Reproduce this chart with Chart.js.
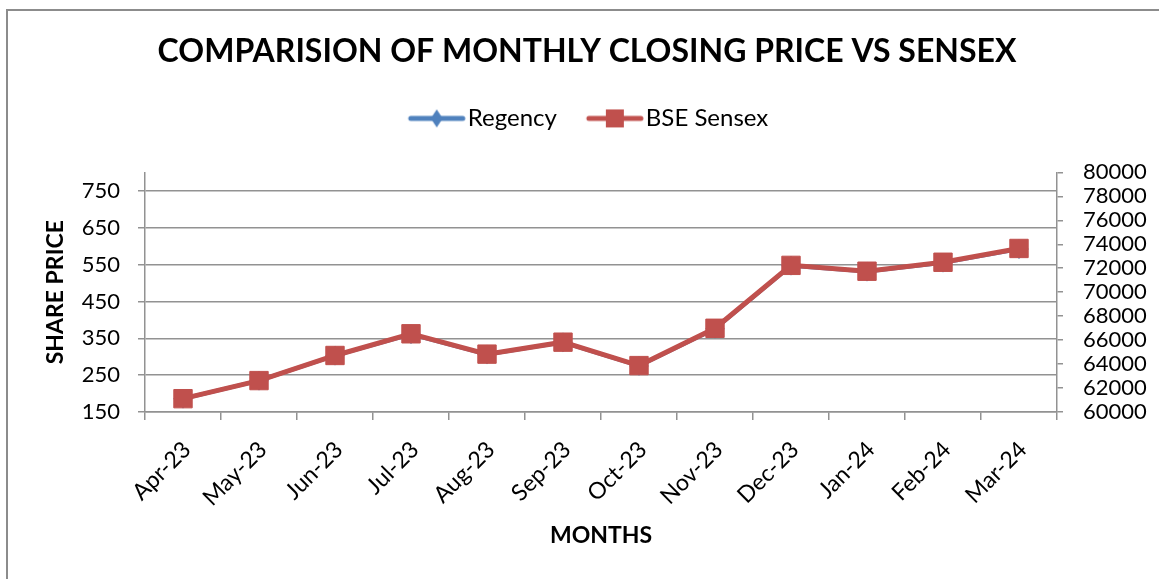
<!DOCTYPE html>
<html>
<head>
<meta charset="utf-8">
<script src="https://cdn.jsdelivr.net/npm/chart.js@4.4.1/dist/chart.umd.min.js"></script>
<style>
  html, body { margin: 0; padding: 0; background: #fff; }
</style>
</head>
<body>
<canvas id="priceChart" width="1159" height="579"></canvas>
<script>
const months = ["Apr-23", "May-23", "Jun-23", "Jul-23", "Aug-23", "Sep-23", "Oct-23", "Nov-23", "Dec-23", "Jan-24", "Feb-24", "Mar-24"];
// Regency sits exactly under the Sensex line in the picture (left axis)
const regencyPrice = [186, 235, 303, 361, 306, 339, 275, 376, 547, 531, 555, 592];
const sensexClose = [61112, 62622, 64718, 66527, 64831, 65828, 63874, 66988, 72240, 71752, 72500, 73651];
const priceTicks = [150, 250, 350, 450, 550, 650, 750];

const BLUE = "#4F81BD";
const RED = "#C0504D";
const GRID = "#929292";
const FONT = "Lato";

// legend sample: line with the marker in the middle
const legendIcon = (color, shape) => {
  const c = document.createElement("canvas");
  c.width = 72;
  c.height = 20;
  const ctx = c.getContext("2d");
  ctx.strokeStyle = color;
  ctx.lineWidth = 5;
  ctx.lineCap = "round";
  ctx.beginPath();
  ctx.moveTo(16, 10);
  ctx.lineTo(68, 10);
  ctx.stroke();
  ctx.fillStyle = color;
  if (shape === "diamond") {
    ctx.beginPath();
    ctx.moveTo(42, 1);
    ctx.lineTo(48, 10);
    ctx.lineTo(42, 19);
    ctx.lineTo(36, 10);
    ctx.closePath();
    ctx.fill();
  } else {
    ctx.fillRect(33, 1, 18, 18);
  }
  return c;
};
const icons = [legendIcon(BLUE, "diamond"), legendIcon(RED, "rect")];

// outer frame of the chart (left and top edges show)
const frame = {
  id: "frame",
  beforeDraw(chart) {
    const ctx = chart.ctx;
    ctx.save();
    ctx.strokeStyle = "#8c8c8c";
    ctx.lineWidth = 2;
    ctx.beginPath();
    ctx.moveTo(7, 600);
    ctx.lineTo(7, 10);
    ctx.lineTo(1170, 10);
    ctx.stroke();
    ctx.restore();
  },
};

// leave room under the legend before the plot starts
const legendGap = {
  id: "legendGap",
  beforeLayout(chart) {
    const lg = chart.legend;
    if (lg && !lg._gapPatched) {
      const fit = lg.fit;
      lg.fit = function () {
        fit.call(this);
        this.height += 32;
      };
      lg._gapPatched = true;
    }
  },
};

const chart = new Chart(document.getElementById("priceChart"), {
  type: "line",
  data: {
    labels: months,
    datasets: [
      {
        label: "Regency",
        data: regencyPrice,
        yAxisID: "y",
        order: 1,
        borderColor: BLUE,
        backgroundColor: BLUE,
        borderWidth: 4,
        pointStyle: "rectRot",
        pointRadius: 7,
        tension: 0,
      },
      {
        label: "BSE Sensex",
        data: sensexClose,
        yAxisID: "y1",
        order: 0,
        borderColor: RED,
        backgroundColor: RED,
        borderWidth: 5,
        pointStyle: "rect",
        pointRadius: 13,
        pointBorderWidth: 1,
        tension: 0,
      },
    ],
  },
  options: {
    responsive: false,
    animation: false,
    layout: { padding: { left: 15, right: 0, top: 0, bottom: 30 } },
    plugins: {
      tooltip: { enabled: false },
      title: {
        display: true,
        text: "COMPARISION OF MONTHLY CLOSING PRICE VS SENSEX",
        color: "#000",
        font: { family: FONT, size: 32, weight: "bold" },
        padding: { top: 32, bottom: 9 },
      },
      legend: {
        position: "top",
        labels: {
          usePointStyle: true,
          pointStyleWidth: 50,
          color: "#000",
          font: { family: FONT, size: 24 },
          padding: 27,
          sort: (a, b) => a.datasetIndex - b.datasetIndex,
          generateLabels: (c) =>
            Chart.defaults.plugins.legend.labels.generateLabels(c).map((item) => {
              item.pointStyle = icons[item.datasetIndex];
              return item;
            }),
        },
      },
    },
    scales: {
      x: {
        offset: true,
        grid: { offset: true, drawOnChartArea: false, tickLength: 8, color: GRID, lineWidth: 1.5 },
        border: { color: GRID, width: 1.5 },
        ticks: {
          minRotation: 45,
          maxRotation: 45,
          padding: 16,
          labelOffset: 4,
          color: "#000",
          font: { family: FONT, size: 23 },
        },
        title: {
          display: true,
          text: "MONTHS",
          color: "#000",
          font: { family: FONT, size: 23, weight: "bold" },
          padding: { top: 0, bottom: 0 },
        },
        afterFit: (s) => { s.height = 549 - 412; },
      },
      y: {
        position: "left",
        min: 150,
        max: 800,
        afterBuildTicks: (s) => { s.ticks = priceTicks.map((v) => ({ value: v })); },
        grid: { tickLength: 7, color: GRID, lineWidth: 1.5 },
        border: { color: GRID, width: 1.5 },
        ticks: { padding: 18, color: "#000", font: { family: FONT, size: 22 } },
        title: {
          display: true,
          text: "SHARE PRICE",
          color: "#000",
          font: { family: FONT, size: 23, weight: "bold" },
          padding: { top: 27, bottom: 0 },
        },
        afterFit: (s) => { s.width = 145 - 15; },
      },
      y1: {
        position: "right",
        min: 60000,
        max: 80000,
        grid: { drawOnChartArea: false, tickLength: 6, color: GRID, lineWidth: 1.5 },
        border: { color: GRID, width: 1.5 },
        ticks: {
          stepSize: 2000,
          autoSkip: false,
          padding: 20,
          color: "#000",
          font: { family: FONT, size: 22 },
          callback: (v) => String(v),
        },
        afterFit: (s) => { s.width = 1159 - 1057; },
      },
    },
  },
  plugins: [frame, legendGap],
});
</script>
</body>
</html>
